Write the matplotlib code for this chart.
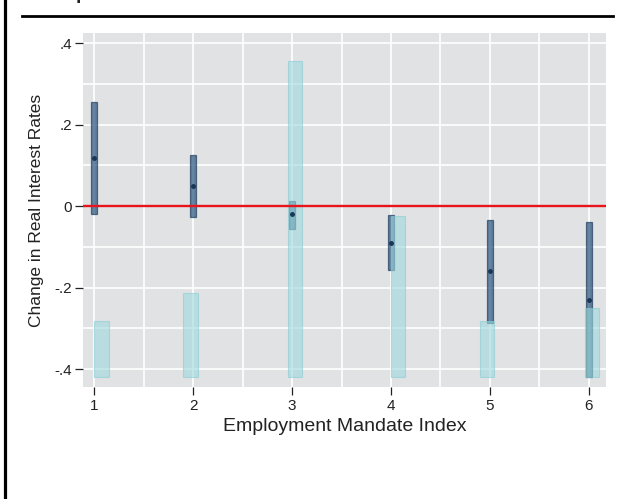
"""
Employment mandate index vs. change in real interest rates (coefficient plot
with histogram of the index in the background).
Output: out.png
"""
import numpy as np
import matplotlib
matplotlib.use('Agg')
import matplotlib.pyplot as plt
from matplotlib.lines import Line2D
from matplotlib.ticker import MultipleLocator, FixedLocator

plt.rcParams.update({
    'font.family': ['Liberation Sans', 'DejaVu Sans'],
    'text.color': '#222222',
    'axes.labelcolor': '#222222',
    'xtick.color': '#222222',
    'ytick.color': '#222222',
})

# -- data ----------------------------------------------------------------------
index     = [1, 2, 3, 4, 5, 6]
estimate  = [0.118, 0.049, -0.020, -0.090, -0.160, -0.230]
ci_low    = [-0.019, -0.027, -0.055, -0.158, -0.287, -0.420]
ci_high   = [0.256, 0.126, 0.013, -0.021, -0.034, -0.040]

# histogram of the index (drawn from a common base)
hist_left = [1.00, 1.90, 2.96, 4.00, 4.90, 5.96]
hist_top  = [-0.283, -0.213, 0.355, -0.024, -0.283, -0.250]
hist_base = -0.42

ytick_vals   = [-0.4, -0.2, 0, 0.2, 0.4]
ytick_labels = ['-.4', '-.2', '0', '.2', '.4']

# -- figure --------------------------------------------------------------------
fig = plt.figure(figsize=(6.23, 4.99), dpi=100)
ax = fig.add_axes([0.134, 0.2244, 0.8395, 0.7096])
ax.set_facecolor('#e1e2e4')

# confidence boxes
lo = np.array(ci_low)
hi = np.array(ci_high)
ax.bar(index, hi - lo, bottom=lo, width=0.058, color='#1f4e79', alpha=0.68,
       edgecolor='#1d3b5c', linewidth=0.9, zorder=2)

# histogram bars
top = np.array(hist_top)
ax.bar(hist_left, top - hist_base, bottom=hist_base, width=0.145, align='edge',
       color='#9dd9dd', alpha=0.6, edgecolor='#86cdd4', linewidth=0.8, zorder=3)

ax.axhline(0, color='#e8141c', linewidth=1.7, zorder=4)
ax.plot(index, estimate, 'o', ms=2.5, color='#1b3556', zorder=5)

ax.set_xlim(0.89, 6.18)
ax.set_ylim(-0.444, 0.425)
ax.set_xticks(index)
ax.set_yticks(ytick_vals)
ax.set_yticklabels(ytick_labels)
ax.xaxis.set_minor_locator(MultipleLocator(0.5))
ax.yaxis.set_minor_locator(FixedLocator(np.arange(-0.4, 0.45, 0.1)))
ax.tick_params(which='major', length=6, width=0.9, labelsize=11, pad=2)
ax.tick_params(axis='x', which='major', length=5.5, pad=3)
ax.tick_params(which='minor', length=0)
ax.grid(True, which='both', color='white', linewidth=1.2, zorder=0)
ax.set_axisbelow(True)
for s in ax.spines.values():
    s.set_visible(False)

ax.set_xlabel('Employment Mandate Index', fontsize=14, labelpad=4)
ax.set_ylabel('Change in Real Interest Rates', fontsize=12.5, labelpad=8)

# frame remnants of the cropped page
fig.add_artist(Line2D([0.008, 0.008], [0, 1], color='black', linewidth=2.3))
fig.add_artist(Line2D([0.035, 0.984], [0.968, 0.968], color='black', linewidth=2.0))
fig.text(0.122, 1.003, 'p', fontsize=14, fontweight='bold', va='baseline', ha='left')

fig.savefig('out.png', dpi=100)
